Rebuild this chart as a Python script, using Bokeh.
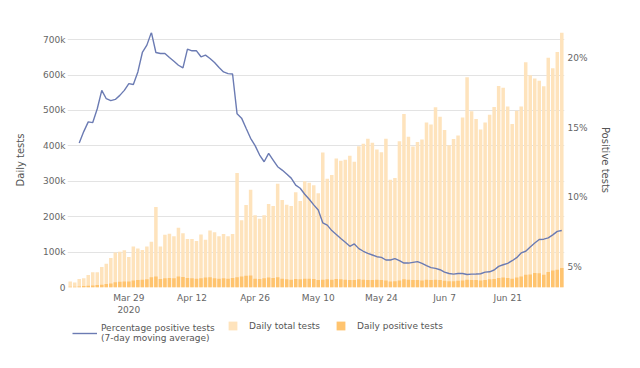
import pandas as pd
from bokeh.plotting import figure
from bokeh.layouts import row, column
from bokeh.models import (ColumnDataSource, Range1d, LinearAxis, FixedTicker,
                          NumeralTickFormatter, Legend, LegendItem, Spacer)
from bokeh.embed import file_html
from bokeh.resources import INLINE

# ---------------- data ----------------
start_date = "2020-03-16"
total_tests = [17, 14, 24, 26, 35, 43, 43, 58, 67, 83,
               99, 101, 105, 86, 116, 110, 106, 116, 129, 227,
               116, 149, 152, 145, 169, 153, 137, 137, 131, 150,
               135, 161, 156, 145, 151, 145, 151, 323, 190, 233,
               276, 204, 194, 204, 236, 230, 293, 247, 234, 230,
               269, 244, 300, 296, 289, 266, 381, 307, 318, 364,
               358, 361, 372, 355, 399, 406, 420, 409, 390, 382,
               420, 304, 309, 413, 490, 426, 398, 411, 418, 466,
               460, 509, 482, 445, 402, 419, 429, 480, 594, 498,
               476, 446, 466, 488, 510, 569, 564, 511, 462, 499,
               511, 636, 599, 590, 584, 568, 649, 619, 665, 720]  # thousands
positive_tests = [2, 2, 3, 4, 5, 6, 7, 8, 10, 11,
                  15, 16, 17, 17, 20, 21, 22, 23, 29, 31,
                  24, 26, 27, 26, 31, 30, 27, 26, 25, 26,
                  28, 29, 26, 25, 26, 25, 27, 29, 31, 33,
                  34, 25, 24, 26, 28, 27, 29, 25, 23, 22,
                  24, 23, 25, 25, 24, 21, 22, 23, 22, 24,
                  23, 22, 21, 21, 23, 22, 21, 21, 22, 21,
                  20, 17, 18, 20, 23, 22, 21, 21, 20, 22,
                  21, 22, 21, 19, 18, 18, 19, 20, 22, 21,
                  21, 20, 21, 23, 24, 27, 28, 27, 25, 28,
                  31, 36, 37, 41, 40, 36, 44, 48, 50, 55]  # thousands
pct_start_date = "2020-03-18"
pct_positive = [13.91, 14.73, 15.43, 15.38, 16.38, 17.70, 17.10, 16.96, 17.05, 17.34,
                17.70, 18.19, 18.12, 19.03, 20.43, 20.96, 21.88, 20.43, 20.36, 20.36,
                20.07, 19.80, 19.51, 19.32, 20.67, 20.55, 20.55, 20.12, 20.24, 20.00,
                19.71, 19.35, 19.03, 18.91, 18.88, 16.01, 15.70, 14.97, 14.25, 13.72,
                13.04, 12.56, 13.16, 12.68, 12.20, 11.96, 11.67, 11.38, 10.87, 10.65,
                10.22, 9.86, 9.45, 9.08, 8.16, 7.99, 7.60, 7.32, 7.03, 6.76,
                6.47, 6.64, 6.30, 6.11, 5.96, 5.84, 5.72, 5.67, 5.48, 5.48,
                5.58, 5.43, 5.26, 5.26, 5.31, 5.36, 5.24, 5.07, 4.93, 4.88,
                4.78, 4.61, 4.51, 4.46, 4.51, 4.51, 4.44, 4.46, 4.47, 4.49,
                4.61, 4.63, 4.76, 5.02, 5.14, 5.24, 5.43, 5.65, 5.99, 6.11,
                6.42, 6.71, 6.96, 6.98, 7.07, 7.29, 7.54, 7.61]  # percent
tick_dates = ["2020-03-29", "2020-04-12", "2020-04-26", "2020-05-10",
              "2020-05-24", "2020-06-07", "2020-06-21"]
tick_labels = ["Mar 29\n2020", "Apr 12", "Apr 26", "May 10",
               "May 24", "Jun 7", "Jun 21"]
left_ticks = [0, 100, 200, 300, 400, 500, 600, 700]
right_ticks = [5, 10, 15, 20]
legend_labels = ["Percentage positive tests\n(7-day moving average)",
                 "Daily total tests", "Daily positive tests"]

# ---------------- style ----------------
FONT = "DejaVu Sans"
TICK_COLOR = "#666666"
LABEL_COLOR = "#555555"
TOTAL_COLOR = "#FEE3BC"
POS_COLOR = "#FFC46F"
LINE_COLOR = "#6B7BB3"

# ---------------- build ----------------
t0 = pd.Timestamp(start_date)
dates = pd.date_range(start_date, periods=len(total_tests))
day = [(d - t0).days for d in dates]
pct_dates = pd.date_range(pct_start_date, periods=len(pct_positive))
pct_day = [(d - t0).days for d in pct_dates]

bars = ColumnDataSource(dict(x=day,
                             total=[v * 1000 for v in total_tests],
                             pos=[v * 1000 for v in positive_tests]))
line_src = ColumnDataSource(dict(x=pct_day, pct=[v / 100 for v in pct_positive]))

W = 601
p = figure(width=W, height=317, output_backend="svg", toolbar_location=None,
           x_range=Range1d(-0.6, len(total_tests) - 0.4),
           y_range=Range1d(0, 720000),
           min_border_left=0, min_border_right=0, min_border_top=32,
           min_border_bottom=0)
p.extra_y_ranges = {"pct": Range1d(0.035, 0.2187)}
p.outline_line_color = None

p.vbar(x="x", top="total", width=0.78, source=bars,
       fill_color=TOTAL_COLOR, line_color=None)
p.vbar(x="x", top="pos", width=0.78, source=bars,
       fill_color=POS_COLOR, line_color=None)
p.line(x="x", y="pct", source=line_src, y_range_name="pct",
       line_color=LINE_COLOR, line_width=1.4)


def style_axis(ax):
    ax.axis_line_color = None
    ax.major_tick_line_color = None
    ax.minor_tick_line_color = None
    ax.major_tick_out = 0
    ax.major_tick_in = 0
    ax.minor_tick_out = 0
    ax.major_label_text_font = FONT
    ax.major_label_text_font_size = "9px"
    ax.major_label_text_color = TICK_COLOR
    ax.axis_label_text_font = FONT
    ax.axis_label_text_font_size = "10px"
    ax.axis_label_text_font_style = "normal"
    ax.axis_label_text_color = LABEL_COLOR


# x axis
xa = p.xaxis[0]
style_axis(xa)
xa.ticker = FixedTicker(ticks=[(pd.Timestamp(d) - t0).days for d in tick_dates])
xa.major_label_overrides = {(pd.Timestamp(d) - t0).days: lab
                            for d, lab in zip(tick_dates, tick_labels)}
xa.major_label_standoff = 5

# left axis
ya = p.yaxis[0]
style_axis(ya)
ya.ticker = FixedTicker(ticks=[v * 1000 for v in left_ticks])
ya.formatter = NumeralTickFormatter(format="0a")
ya.axis_label = "Daily tests"
ya.major_label_standoff = 2
ya.axis_label_standoff = 14

# right axis
ra = LinearAxis(y_range_name="pct", axis_label="Positive tests",
                ticker=FixedTicker(ticks=[v / 100 for v in right_ticks]),
                formatter=NumeralTickFormatter(format="0%"))
style_axis(ra)
ra.major_label_standoff = 3
ra.axis_label_standoff = 9
p.add_layout(ra, "right")

p.xgrid.visible = False
p.ygrid.grid_line_color = "#E3E3E3"
p.ygrid.grid_line_width = 1

# ---------------- legend strip ----------------
lf = figure(width=W, height=40, output_backend="svg", toolbar_location=None,
            x_axis_location=None, y_axis_location=None,
            x_range=Range1d(0, 1), y_range=Range1d(0, 1),
            min_border_left=0, min_border_right=0, min_border_top=0,
            min_border_bottom=0)
lf.outline_line_color = None
lf.grid.visible = False
# stand-ins with no drawable values; they only supply the legend swatches
nan = float("nan")
swatch = ColumnDataSource(dict(x=[nan, nan], y=[nan, nan], top=[nan, nan]))
g_line = lf.line(x="x", y="y", source=swatch, line_color=LINE_COLOR, line_width=1.4)
g_total = lf.vbar(x="x", top="top", width=0.5, source=swatch,
                  fill_color=TOTAL_COLOR, line_color=None)
g_pos = lf.vbar(x="x", top="top", width=0.5, source=swatch,
                fill_color=POS_COLOR, line_color=None)

leg1 = Legend(items=[LegendItem(label=legend_labels[0], renderers=[g_line])],
              location=(5, 14), glyph_width=25, glyph_height=12,
              label_standoff=4)
leg2 = Legend(items=[LegendItem(label=legend_labels[1], renderers=[g_total]),
                     LegendItem(label=legend_labels[2], renderers=[g_pos])],
              location=(160, 26), orientation="horizontal",
              glyph_width=11, glyph_height=11, label_standoff=11, spacing=15)
for lg in (leg1, leg2):
    lg.padding = 0
    lg.margin = 0
    lg.border_line_color = None
    lg.background_fill_alpha = 0
    lg.label_text_font = FONT
    lg.label_text_font_size = "9px"
    lg.label_text_color = LABEL_COLOR
    lg.label_height = 11
    lf.add_layout(lg, "center")

layout = row(Spacer(width=12, height=10), column(p, lf))

open("out.html", "w").write(file_html(layout, INLINE))
